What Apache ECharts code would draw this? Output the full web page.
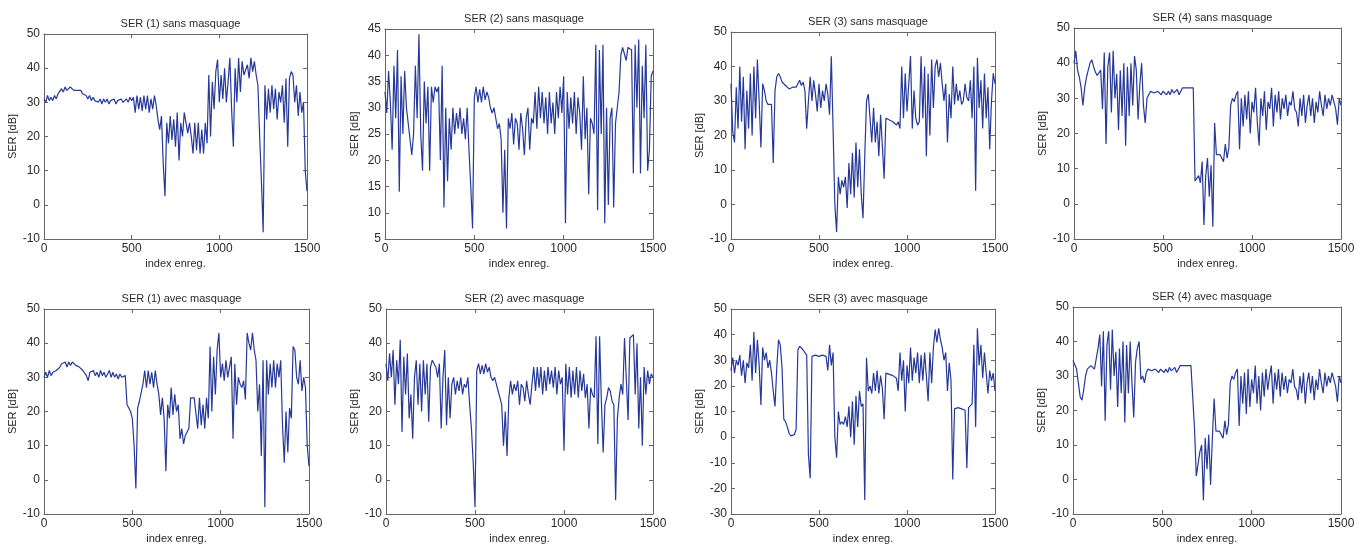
<!DOCTYPE html>
<html><head><meta charset="utf-8">
<script src="https://cdn.jsdelivr.net/npm/echarts@6/dist/echarts.min.js"></script>
<style>html,body{margin:0;padding:0;background:#fff}#c{width:1367px;height:545px}</style>
</head><body><div id="c"></div>
<script>
// x index step between successive samples
const X_STEP = 10;
const titles = ["SER (1) sans masquage","SER (2) sans masquage","SER (3) sans masquage","SER (4) sans masquage",
                "SER (1) avec masquage","SER (2) avec masquage","SER (3) avec masquage","SER (4) avec masquage"];
const xTicks = [0, 500, 1000, 1500];
const yRanges = [[-10,50,10],[5,45,5],[-10,50,10],[-10,50,10],[-10,50,10],[-10,50,10],[-30,50,10],[-10,50,10]];

const ser1Sans = [31,30,32,30.5,31.5,30.5,32,31,32.5,33,34,
 33,34.5,33.5,34,34.5,34,33.5,34,33.5,33,33.5,32.5,33,32,
 31,32,30.5,31.5,30.5,31,
 30,31,29.5,31,30,31,29.5,30.5,30,31,29.5,30.5,30,31,30,
 30.5,31,30,31.5,30.5,31.5,
 27,32,28,31.5,27.5,32,28,32,27,31,28,32,29,
 25,22,26,12,2.5,24,
 18,26,19,25,17,27,13,24,20,27,
 24,21,24,20,15,
 24,16,24,15,22,15,24,
 18,38,20,36,28,39,42.5,
 30,38,31,40,30,36,
 43,28,17,40,30,
 43,33,42,38,38,
 41,37,43,39,42,38,
 35,20,7,-8,
 35,25,34,27,35,
 28,34,25,33,30,35,24,37,17,
 37,39,38,
 30,35,26,33,27,30,
 10,4];

const ser2Sans = [33,29,37,31,22,38,28,41,14,36,25,
 37,30,27,24,21,
 25,38,28,44,25,18,35,27,34,18,
 34,31,34,33,34,
 20,38,11,30,16,28,22,
 30,25,29,26,30,25,28,24,30,22,
 15,7,32,
 34,31,33.5,31,34,31.5,33,32,
 30,29,30,28,26,27,
 24,10,22,7,28,
 26,29,23,28,27,22,29,26,21,28,30,22,28,27,
 33,26,34,28,33,27,32,
 25,33,27,31,25,33,28,34,29,36,
 8,
 33,26,32,27,33,25,32,29,22,
 36,24,30,13.5,28,
 27,25,42,
 10.5,41,25,42,8,
 30,11.5,28,30,
 11,27,27,
 33,40,41.5,41.5,39,41.5,41.5,41,17.5,
 42,30,43,17.5,38,28,42,18,
 22,36,37];

const ser3Sans = [35,21,18,34,
 22,40,24,37,16,33,22,
 38,20,40,25,42,30,
 16.5,
 35,33,30,29,29.5,
 29,12,
 33,37,38,37,35.5,35,
 34.5,34,33.5,33.5,34,33.5,34,
 35,36,34.5,35.5,33,
 22,30,
 37,30,36,32,27,35,28,33,
 30,35,32,26,
 43,22,0,
 -8,8,3,7,5,
 8,-1,12,3,15,2,
 18,5,16,3,-4,
 14,30,32,25,
 18,28,18,24,
 14,26,17,7.5,25,
 25,24.5,24,24,23.5,23,24,
 22,40,25,38,27,
 35,43,22,33,25,23,24,
 43,
 25,40,14,38,20,42,28,40,
 42,37,41,35,
 30,35,18,32,25,
 40,29,35,30,33,
 29,30,35,31,30,
 36,25,40,
 4,
 42.5,28,36,22,38,25,34,
 16,30,38,35];

const ser4Sans = [40,43.5,38,36,33,28,
 33,36,38,40,41,39,37.5,
 36.5,36,38,
 27,43,17,39,43,26,43.5,30,37,
 21,38,25,40,
 16.5,
 39,25,40,28,
 42,38,24,34,
 40,
 28,23,
 30,31,32,32.5,31.5,31,32,31.5,31,32,
 31.5,31,32,31,32.5,31.5,31,32.5,31,32,33,32.5,33,32.5,33,33,
 33,6.5,
 7,8,6,
 12,-6,8,13,2,11,-6.5,23,
 14,14,14,14.5,12,17,13,16,
 28,30,29,31,32,
 15.5,
 30,22,31,24,32,20,29,26,33,23,16.5,30,25,32,21,29,27,
 33,22,31,26,32,24,30,27,31,25,
 29,28,32,27,26,22,30,25,31,23,
 28,31,25,30,23,29,26,32,28,25,
 31,27,30,28,31,31.5,27,22.5,30,28];

const ser1Avec = [30,31.5,30,32,30.5,31.5,31,32,32.5,33,34,
 33.5,34.5,33,34.5,33.5,34.5,34,33.5,34,33,
 32.5,32,31.5,30.5,29,31.5,
 31,32,30.5,31.5,30,32,30.5,31.5,30,31,32,30,31.5,30,31,29.5,31,30,30.5,
 30.5,22,21,20,18,
 10,-2.5,21,23,
 23,
 28,32,27,32,28,31.5,27,32,28,
 25,19,24,18,2.5,
 22,18,27,19,25,20,22,
 12,15,10.5,13,14,15,
 24,24,24,24,15,
 24,16,22,15,24,
 18,39,20,36,25,38,43,
 30,34,29,35,30,33,36,
 12,34,22,30,
 28,27,29,23.5,
 43,40,38,43,38,35,
 20,28,7,35,-8,
 35,25,34,27,35,
 27,34,30,35,
 16,5,20,8,21,18,
 39,38,
 30,28,35,26,30,27,
 10,4];

const ser2Avec = [34,29,37,30,38,22,35,28,41,14,36,
 25,37,18,25,12,
 30,35,22,34,20,35,25,34,17,33,
 35,34,33,30,34,
 15,30,38,16,30,18,28,
 30,25,29,26,30,25,28,27,30,
 22,15,5,-8,
 32,34,31,33.5,31,34,31.5,33,
 30,29,30,28,26,24,
 22,10,20,7,24,
 29,25,28,26,29,22,28,27,23,29,25,22,28,
 33,26,33,27,33,25,32,26,33,28,32,27,33,25,32,28,30,8.5,
 34,25,33,24,32,
 25,33,24,32,26,31,24,28,
 15,
 27,25,24,
 42,10.5,42,23,8,
 22,24,27,26,23,22,
 -6,
 18,24,28,25,
 41.5,41.5,17.5,41.5,41,
 42.5,25,40,
 15,30,10,
 33,25,32,28,31,30];

const ser3Avec = [26,31,25,30,
 28,32,24,30,21,29,27,
 36,22,41,25,38,28,
 12.5,
 35,30,33,27,30,25,
 18,12,
 27,38,36,27,
 7,6,4,1.5,0.5,0,1,3,
 34,35.5,35,34,33.5,32,
 -7,-16,
 31.5,31.5,32,31.5,31.5,31.5,32,31.5,31.5,
 26,36,28,33,
 0,-8,10,5,
 6,5,8,4,
 12,0,14,-3,16,4,
 18,12,13,
 -24.5,31,
 18,20,17,25,18,26,17,24,19,7,
 25,24.5,24.5,24,24,23.5,23,
 18,33,22,30,10,
 28,21,35,22,31,25,
 33,21,32,22,33,24,
 14,33,21,35,
 42,37,42.5,38,35,
 30,33,18,29,22,
 -16.5,
 11,11,11.5,11,11,11.5,10.5,
 -12,
 11.5,12,13,
 36,4,
 42.5,28,36,23,33,25,17,
 26,22,25,18];

const ser4Avec = [34.5,34,32,28,24,23,
 26,30,32,32.5,33,32.5,32,32,
 38,42,
 27,43,17,39,43,26,43.5,30,37,21,
 38,25,40,
 16.5,
 39,25,40,28,18,34,38,
 40,
 29,30,28,
 31,32,32.5,31.5,31,32,31.5,31,32,31.5,
 31,32,31,32.5,31.5,31,32.5,31,32,33,32.5,33,32.5,33,33,33,
 33,15,1,
 0.5,8,
 10,-6,12,3,13,-1.5,12,23.5,
 14,14,14,14.5,12,17,13,16,
 28,30,29,31,32,
 15.5,
 30,22,31,19,32,21,29,25,33,22,30,20,31,24,32,26,30,
 33,22,31,26,32,24,31,26,30,25,
 29,28,32,27,26,23,30,25,31,22,
 28,31,25,30,23,29,26,32,28,25,
 31,27,30,28,31,31.5,27,22.5,30,28];

const allSeries = [ser1Sans, ser2Sans, ser3Sans, ser4Sans, ser1Avec, ser2Avec, ser3Avec, ser4Avec];

// plot-area boxes [left, top, width, height]
const boxes = [[44,34,263,205],[385,29,268,210],[731,32,264,207],[1074,28,267,211],
               [44,309,265,207],[386,309,267,207],[731,309,264,207],[1073,307,268,209]];

const FONT = 'Liberation Sans, Arial, sans-serif';
const AX = '#666';
const TXT = '#2a2a2a';
const option = {animation:false, backgroundColor:'#fff', title:[], grid:[], xAxis:[], yAxis:[], series:[]};

boxes.forEach((b, i) => {
  const [l,t,w,h] = b;
  option.grid.push({left:l, top:t, width:w, height:h, containLabel:false});
  option.title.push({text:titles[i], left:l + w/2, top:t-21, textAlign:'center',
    textStyle:{fontFamily:FONT, fontSize:11, fontWeight:'normal', color:TXT}});
  const tickCommon = {show:true, inside:true, length:4, lineStyle:{color:AX, width:1}};
  option.xAxis.push({type:'value', gridIndex:i, min:xTicks[0], max:xTicks[xTicks.length-1], interval:500,
    axisLine:{show:true, onZero:false, lineStyle:{color:AX, width:1}}, axisTick:tickCommon, splitLine:{show:false},
    axisLabel:{fontFamily:FONT, fontSize:12, color:TXT, margin:4, formatter:(v)=>String(v)},
    name:'index enreg.', nameLocation:'middle', nameGap:19,
    nameTextStyle:{fontFamily:FONT, fontSize:11, color:TXT}});
  option.xAxis.push({type:'value', gridIndex:i, position:'top', min:xTicks[0], max:xTicks[xTicks.length-1], interval:500,
    axisLine:{show:true, onZero:false, lineStyle:{color:AX, width:1}}, axisTick:tickCommon, splitLine:{show:false},
    axisLabel:{show:false}});
  const [ymin,ymax,yint] = yRanges[i];
  option.yAxis.push({type:'value', gridIndex:i, min:ymin, max:ymax, interval:yint,
    axisLine:{show:true, onZero:false, lineStyle:{color:AX, width:1}}, axisTick:tickCommon, splitLine:{show:false},
    axisLabel:{fontFamily:FONT, fontSize:12, color:TXT, margin:4},
    name:'SER [dB]', nameLocation:'middle', nameGap:25, nameRotate:90,
    nameTextStyle:{fontFamily:FONT, fontSize:11, color:TXT}});
  option.yAxis.push({type:'value', gridIndex:i, position:'right', min:ymin, max:ymax, interval:yint,
    axisLine:{show:true, onZero:false, lineStyle:{color:AX, width:1}}, axisTick:tickCommon, splitLine:{show:false},
    axisLabel:{show:false}});
  option.series.push({type:'line', xAxisIndex:2*i, yAxisIndex:2*i, showSymbol:false, symbol:'none',
    data: allSeries[i].map((v,k) => [k*X_STEP, v]),
    lineStyle:{color:'#26399a', width:1.2}, itemStyle:{color:'#26399a'}, silent:true});
});

const chart = echarts.init(document.getElementById('c'), null, {renderer:'canvas'});
chart.setOption(option);
</script>
</body></html>
